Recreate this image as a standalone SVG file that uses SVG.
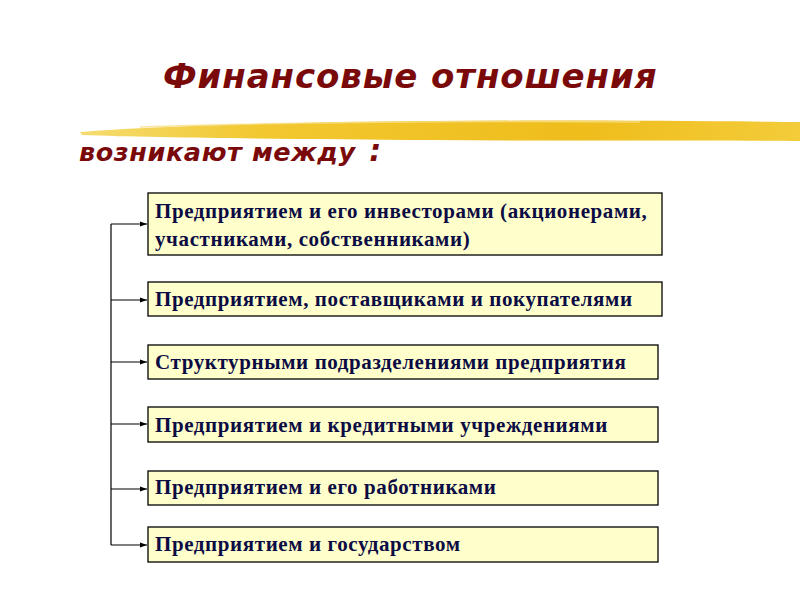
<svg xmlns="http://www.w3.org/2000/svg" width="800" height="600" viewBox="0 0 800 600">
<defs>
<style>
.box{fill:#ffffcc;stroke:#000;stroke-width:1.3}
.t{font-family:"Liberation Serif","Times New Roman",serif;font-weight:bold;font-size:21px;letter-spacing:0.6px;fill:#0c0c44}
.h{font-family:"DejaVu Sans",Verdana,sans-serif;font-weight:bold;font-style:italic;fill:#7a0a0a}
.c{fill:none;stroke:#000;stroke-width:1.2}
</style>
<marker id="ar" markerWidth="8" markerHeight="8" refX="7" refY="4" orient="auto" markerUnits="userSpaceOnUse">
<path d="M0,1.5 L7,4 L0,6.5 z" fill="#000"/>
</marker>
<linearGradient id="yg" x1="0" y1="0" x2="1" y2="0">
<stop offset="0" stop-color="#f5dc70"/>
<stop offset="0.25" stop-color="#f2c830"/>
<stop offset="0.7" stop-color="#efbd1c"/>
<stop offset="1" stop-color="#f3cc3a"/>
</linearGradient>
</defs>
<rect width="800" height="600" fill="#fff"/>
<text class="h" x="163" y="88" font-size="34" letter-spacing="0.9">Финансовые отношения</text>
<path d="M80,132 C150,126 300,122 430,121 C560,120 700,121 800,122 L800,141 C700,140 560,141 430,140 C300,139 160,138 82,135 Z" fill="url(#yg)"/>
<path d="M140,127 C300,122 500,121 640,122" fill="none" stroke="#f7e08a" stroke-width="1.5" opacity="0.8"/>
<text class="h" x="79" y="161" font-size="25.5" letter-spacing="0.6">возникают между <tspan dx="4" font-size="30">:</tspan></text>
<g id="connectors">
<path class="c" d="M111,224 V545"/>
<path class="c" d="M111,224 H147" marker-end="url(#ar)"/>
<path class="c" d="M111,300 H147" marker-end="url(#ar)"/>
<path class="c" d="M111,362 H147" marker-end="url(#ar)"/>
<path class="c" d="M111,424 H147" marker-end="url(#ar)"/>
<path class="c" d="M111,489 H147" marker-end="url(#ar)"/>
<path class="c" d="M111,545 H147" marker-end="url(#ar)"/>
</g>
<g id="n1"><rect class="box" x="148" y="193" width="514" height="62"/>
<text class="t" x="155" y="218">Предприятием и его инвесторами (акционерами,</text>
<text class="t" x="155" y="246">участниками, собственниками)</text></g>
<g id="n2"><rect class="box" x="148" y="282" width="514" height="34"/>
<text class="t" x="155" y="306">Предприятием, поставщиками и покупателями</text></g>
<g id="n3"><rect class="box" x="148" y="345" width="510" height="34"/>
<text class="t" x="155" y="369">Структурными подразделениями предприятия</text></g>
<g id="n4"><rect class="box" x="148" y="407" width="510" height="35"/>
<text class="t" x="155" y="432">Предприятием и кредитными учреждениями</text></g>
<g id="n5"><rect class="box" x="148" y="471" width="510" height="34"/>
<text class="t" x="155" y="494">Предприятием и его работниками</text></g>
<g id="n6"><rect class="box" x="148" y="527" width="510" height="35"/>
<text class="t" x="155" y="551">Предприятием и государством</text></g>
</svg>
